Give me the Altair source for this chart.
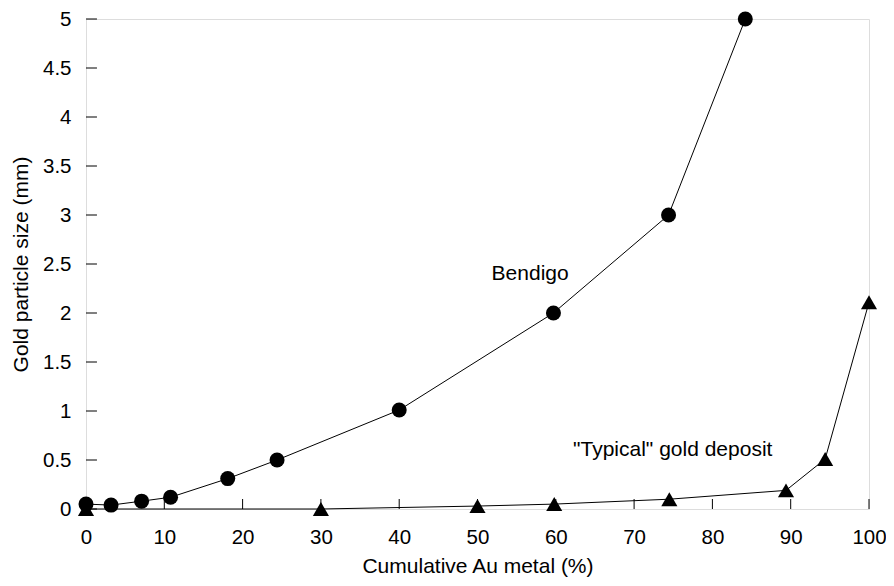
import altair as alt
import pandas as pd

# Bendigo series
bendigo_x = [0, 3.2, 7.1, 10.8, 18.1, 24.4, 40, 59.7, 74.4, 84.2]
bendigo_y = [0.05, 0.04, 0.08, 0.12, 0.31, 0.50, 1.01, 2.0, 3.0, 5.0]

# "Typical" gold deposit series
typical_x = [0, 30, 50, 59.8, 74.5, 89.4, 94.4, 100]
typical_y = [0, 0, 0.03, 0.05, 0.10, 0.19, 0.51, 2.11]

x_ticks = [0, 10, 20, 30, 40, 50, 60, 70, 80, 90, 100]
y_ticks = [0, 0.5, 1, 1.5, 2, 2.5, 3, 3.5, 4, 4.5, 5]

labels = ["Bendigo", '"Typical" gold deposit']
label_x = [51.8, 62.2]
label_y = [2.34, 0.54]

FONT = "Liberation Sans"
FS = 21
LFS = 20.5

bend = pd.DataFrame({"x": bendigo_x, "y": bendigo_y})
typ = pd.DataFrame({"x": typical_x, "y": typical_y})
xt = pd.DataFrame({"v": x_ticks})
yt = pd.DataFrame({"v": y_ticks})
lab = pd.DataFrame({"t": labels, "x": label_x, "y": label_y})

xs = alt.Scale(domain=[0, 100], nice=False, zero=False)
ys = alt.Scale(domain=[0, 5], nice=False, zero=False)

xaxis = alt.Axis(values=x_ticks, ticks=False, domain=False, grid=False,
                 format="d",
                 labelFont=FONT, labelFontSize=LFS, labelColor="black",
                 labelPadding=18, title="Cumulative Au metal (%)",
                 titleFont=FONT, titleFontSize=FS, titleFontWeight="normal",
                 titleColor="black", titlePadding=8, labelFlush=False)
yaxis = alt.Axis(values=y_ticks, ticks=False, domain=False, grid=False,
                 format="~r",
                 labelFont=FONT, labelFontSize=LFS, labelColor="black",
                 labelPadding=15, title="Gold particle size (mm)",
                 titleFont=FONT, titleFontSize=FS, titleFontWeight="normal",
                 titleColor="black", titlePadding=11, labelFlush=False)

line_b = alt.Chart(bend).mark_line(color="black", strokeWidth=1).encode(
    x=alt.X("x:Q", scale=xs, axis=xaxis),
    y=alt.Y("y:Q", scale=ys, axis=yaxis),
)
pts_b = alt.Chart(bend).mark_point(shape="circle", filled=True, color="black",
                                   size=225, opacity=1).encode(
    x=alt.X("x:Q", scale=xs), y=alt.Y("y:Q", scale=ys))

line_t = alt.Chart(typ).mark_line(color="black", strokeWidth=1).encode(
    x=alt.X("x:Q", scale=xs), y=alt.Y("y:Q", scale=ys))
pts_t = alt.Chart(typ).mark_point(shape="triangle-up", filled=True, color="black",
                                  size=260, opacity=1).encode(
    x=alt.X("x:Q", scale=xs), y=alt.Y("y:Q", scale=ys))

# inward tick marks
xtick = alt.Chart(xt).mark_rule(color="black", strokeWidth=1).encode(
    x=alt.X("v:Q", scale=xs),
    y=alt.Y(datum=0, scale=ys),
    y2=alt.Y2(datum=0.102))
ytick = alt.Chart(yt).mark_rule(color="black", strokeWidth=1).encode(
    y=alt.Y("v:Q", scale=ys),
    x=alt.X(datum=0, scale=xs),
    x2=alt.X2(datum=1.4))

text = alt.Chart(lab).mark_text(font=FONT, fontSize=FS, align="left",
                                baseline="alphabetic", color="black").encode(
    x=alt.X("x:Q", scale=xs), y=alt.Y("y:Q", scale=ys), text="t:N")

chart = alt.layer(line_b, xtick, ytick, line_t, pts_t, pts_b, text).properties(
    width=783, height=490,
    autosize=alt.AutoSizeParams(type="none"),
    padding={"left": 78, "top": 11, "right": 17, "bottom": 69},
).configure_view(stroke="black", strokeWidth=1).configure(background="white")

chart.save("out.html", embed_options={"renderer": "svg", "actions": False})
